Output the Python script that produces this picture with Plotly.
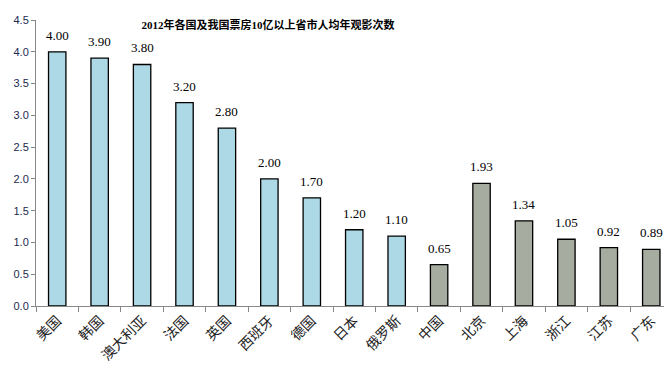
import plotly.graph_objects as go

categories = ["美国", "韩国", "澳大利亚", "法国", "英国", "西班牙", "德国", "日本", "俄罗斯",
              "中国", "北京", "上海", "浙江", "江苏", "广东"]
values = [4.00, 3.90, 3.80, 3.20, 2.80, 2.00, 1.70, 1.20, 1.10, 0.65, 1.93, 1.34, 1.05, 0.92, 0.89]
groups = ["国家"] * 9 + ["中国"] * 6
color_map = {"国家": "#ADD8E6", "中国": "#A6ACA0"}
title_text = "2012年各国及我国票房10亿以上省市人均年观影次数"

fig = go.Figure()
fig.add_trace(go.Bar(
    x=categories, y=values,
    marker=dict(color=[color_map[g] for g in groups], line=dict(color="black", width=1.3)),
    width=0.41, hoverinfo="x+y",
))
for c, v in zip(categories, values):
    fig.add_annotation(x=c, y=v, text=f"{v:.2f}", showarrow=False, yanchor="bottom", yshift=7,
                       font=dict(family="Liberation Serif, Times New Roman, serif", size=13, color="black"))
fig.update_layout(
    width=664, height=370,
    margin=dict(l=36, r=0, t=20, b=64, autoexpand=False),
    plot_bgcolor="white", paper_bgcolor="white",
    showlegend=False,
    title=dict(text=f"<b>{title_text}</b>", x=268/664, xanchor="center", y=1-25/370, yanchor="middle",
               font=dict(family="Liberation Serif, Noto Sans CJK SC, serif", size=11, color="black")),
)
fig.update_yaxes(range=[0, 4.5], dtick=0.5, tickformat=".1f", showgrid=False,
                 showline=True, linecolor="#888888", linewidth=1,
                 ticks="outside", ticklen=4, tickcolor="#888888",
                 tickfont=dict(family="Liberation Sans, Arial, sans-serif", size=11, color="#1c2a50"),
                 zeroline=False, automargin=False)
fig.update_xaxes(showline=True, linecolor="#888888", linewidth=1,
                 ticks="outside", ticklen=5, tickcolor="#888888", tickson="boundaries",
                 tickangle=-45, automargin=False,
                 tickfont=dict(family="Noto Sans CJK SC, sans-serif", size=14, color="#222222"),
                 range=[-0.5, 14.3])
fig.write_html("out.html", config={"displayModeBar": False},
               post_script="document.body.style.margin='0px';document.body.style.overflow='hidden';")
